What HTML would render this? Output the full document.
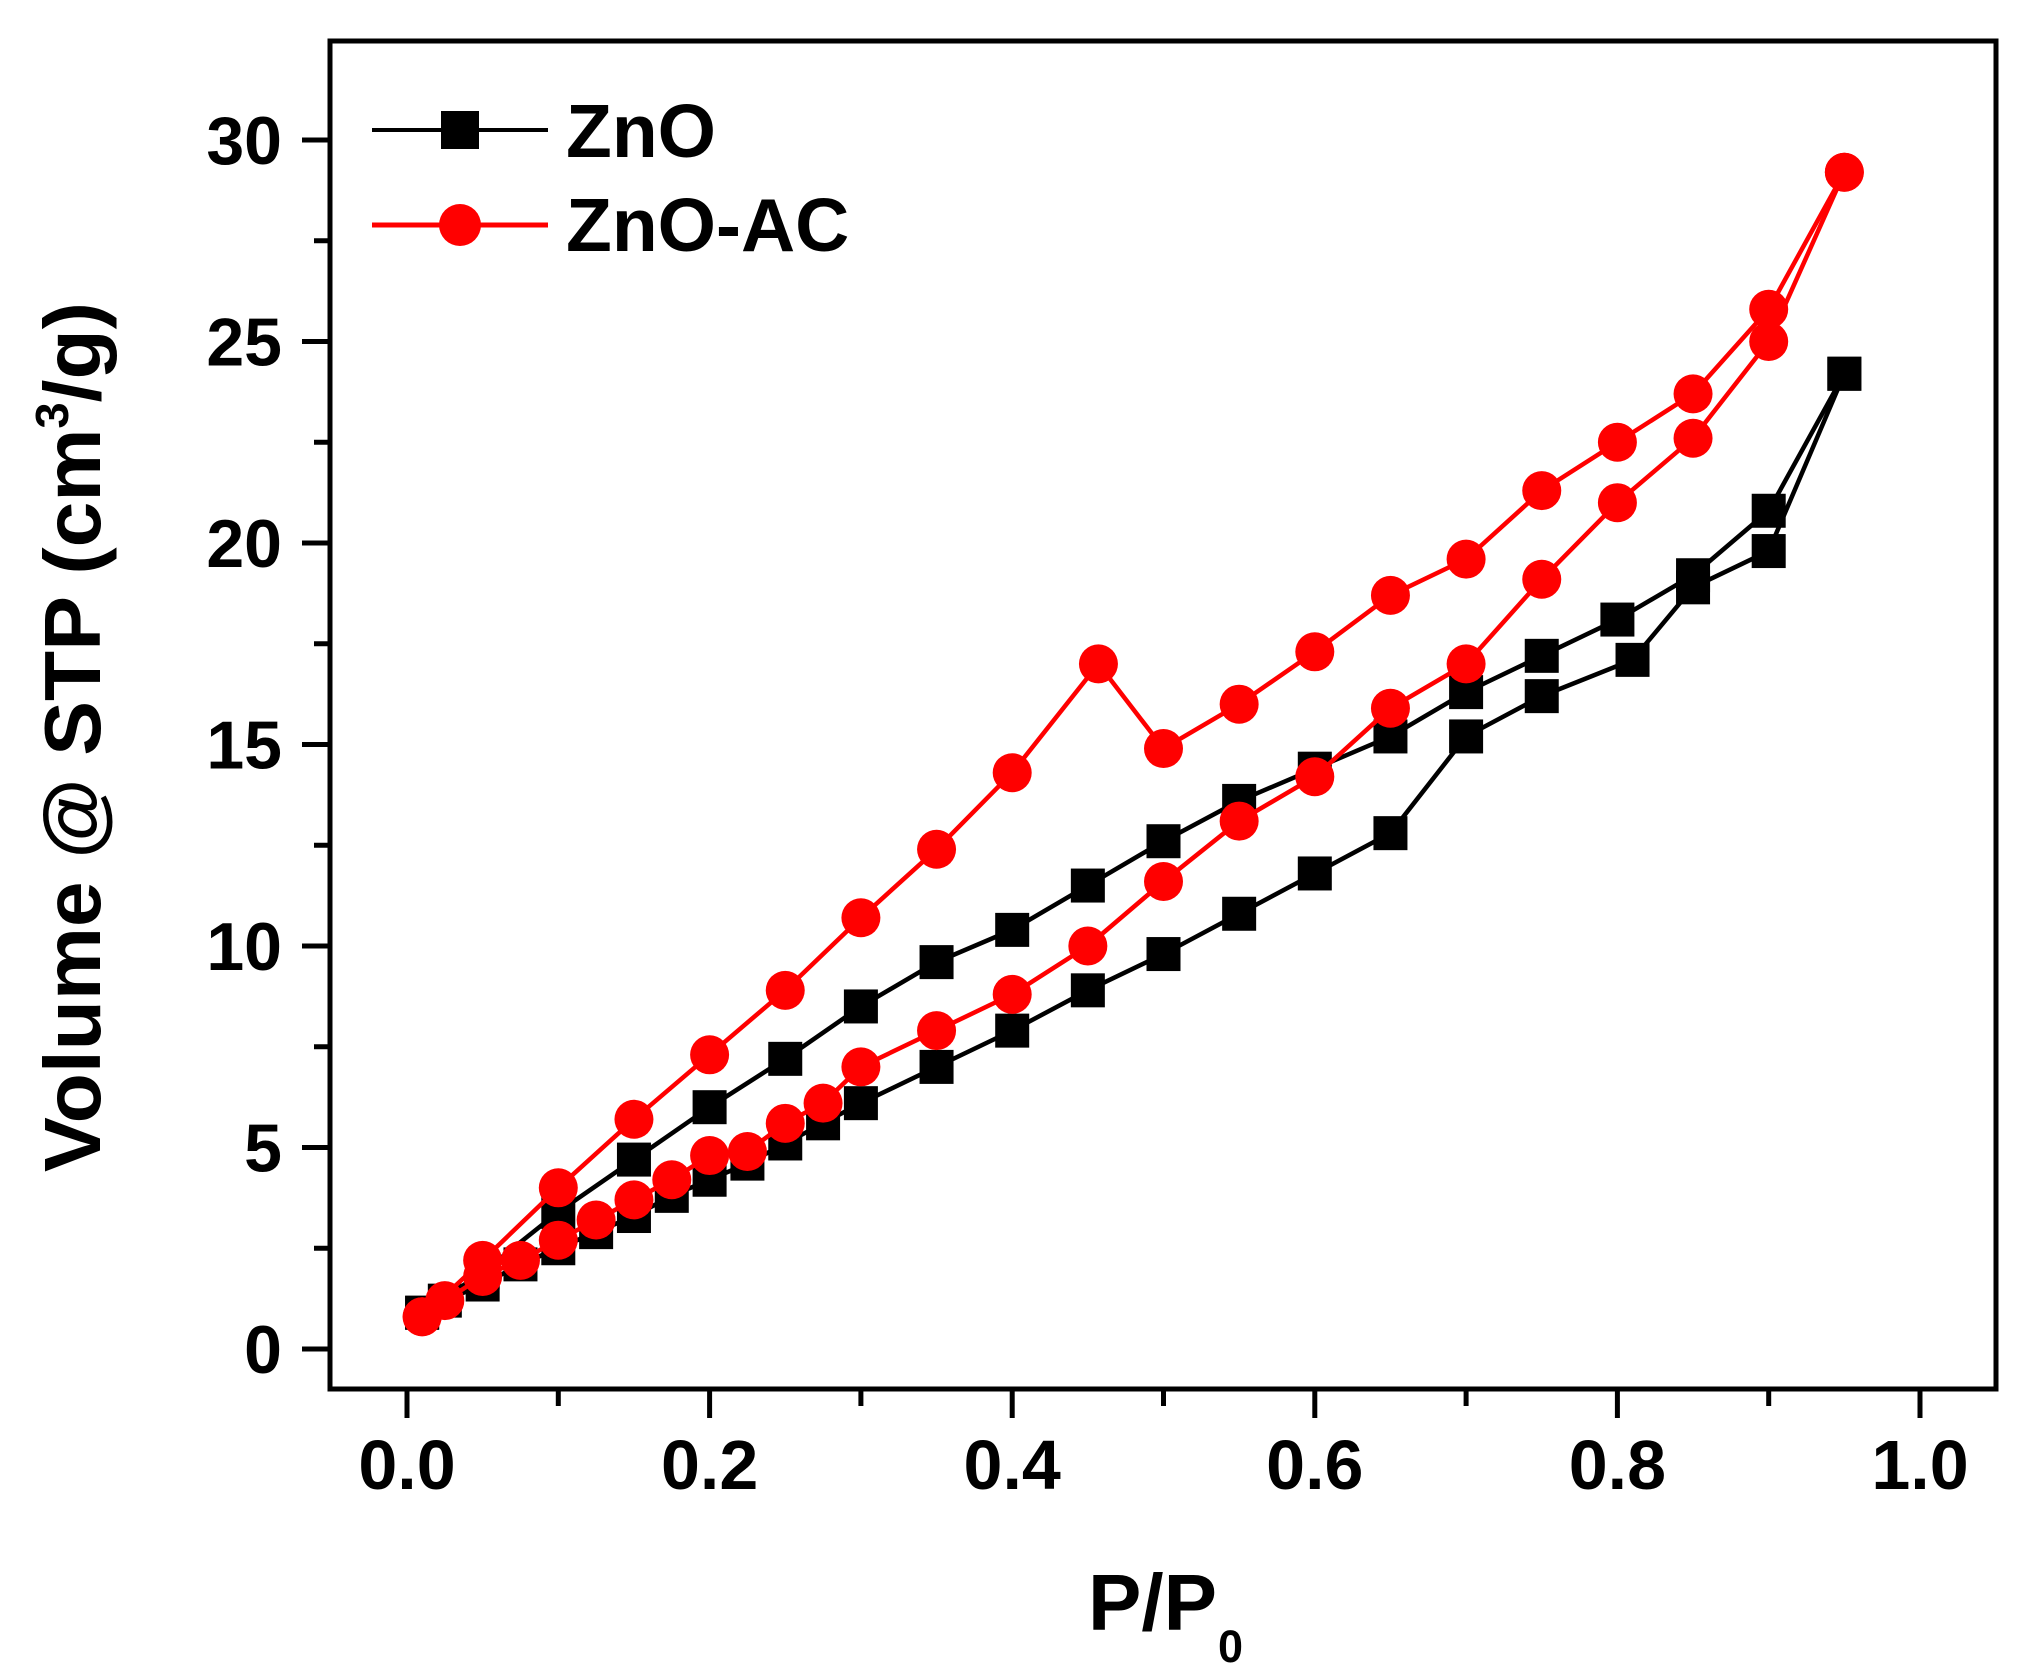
<!DOCTYPE html>
<html><head><meta charset="utf-8"><style>
html,body{margin:0;padding:0;background:#fff;}
svg{display:block;}
text{font-family:"Liberation Sans",Arial,sans-serif;font-weight:bold;fill:#000;}
</style></head><body>
<svg id="s" width="2033" height="1679" viewBox="0 0 2033 1679" xmlns="http://www.w3.org/2000/svg">
<rect width="2033" height="1679" fill="#fff"/>
<g id="data"></g>
<rect x="330" y="41" width="1666" height="1348" fill="none" stroke="#000" stroke-width="5"/>
<g id="ticks" stroke="#000" stroke-width="5"></g>
<g id="labels" font-size="68"></g>
<line x1="372" y1="130" x2="548" y2="130" stroke="#000" stroke-width="4"/>
<rect x="441" y="111" width="38" height="38" fill="#000"/>
<text x="566" y="157" font-size="75">ZnO</text>
<line x1="372" y1="225" x2="548" y2="225" stroke="#f00" stroke-width="5"/>
<circle cx="460" cy="225" r="21" fill="#f00"/>
<text x="566" y="251" font-size="75">ZnO-AC</text>
<text x="1088" y="1630" font-size="80">P/P</text>
<text x="1218" y="1662" font-size="45">0</text>
<text transform="translate(100,737) rotate(-90)" text-anchor="middle" font-size="80" textLength="870" lengthAdjust="spacingAndGlyphs">Volume @ STP (cm<tspan dy="-32" font-size="46">3</tspan><tspan dy="32">/g)</tspan></text>
</svg>
<script>
var NS="http://www.w3.org/2000/svg";
function X(v){return 407+v*1513;}
function Y(v){return 1349-v*40.3;}
function el(p,n,a){var e=document.createElementNS(NS,n);for(var k in a)e.setAttribute(k,a[k]);p.appendChild(e);return e;}
var T=document.getElementById('ticks'),L=document.getElementById('labels');
for(var i=0;i<=12;i++){var y=Y(i*2.5);el(T,'line',{x1:i%2?314:302,y1:y,x2:330,y2:y});
 if(i%2==0){var t=el(L,'text',{x:282,y:y+24,'text-anchor':'end'});t.textContent=String(i*2.5);}}
for(var i=0;i<=10;i++){var x=X(i*0.1);el(T,'line',{x1:x,y1:1389,x2:x,y2:i%2?1406:1418});
 if(i%2==0){var t=el(L,'text',{x:x,y:1489,'text-anchor':'middle','font-size':70});t.textContent=(i*0.1).toFixed(1);}}
var zA=[[0.01,0.9],[0.025,1.2],[0.05,1.6],[0.075,2.1],[0.1,2.5],[0.125,2.9],[0.15,3.3],[0.175,3.8],[0.2,4.2],[0.225,4.6],[0.25,5.1],[0.275,5.6],[0.3,6.1],[0.35,7.0],[0.4,7.9],[0.45,8.9],[0.5,9.8],[0.55,10.8],[0.6,11.8],[0.65,12.8],[0.7,15.2],[0.75,16.2],[0.81,17.1],[0.85,18.9],[0.9,19.8],[0.95,24.2]];
var zD=[[0.95,24.2],[0.9,20.8],[0.85,19.2],[0.8,18.1],[0.75,17.2],[0.7,16.3],[0.65,15.2],[0.6,14.4],[0.55,13.6],[0.5,12.6],[0.45,11.5],[0.4,10.4],[0.35,9.6],[0.3,8.5],[0.25,7.2],[0.2,6.0],[0.15,4.7],[0.1,3.4],[0.05,1.9],[0.01,0.9]];
var aA=[[0.01,0.8],[0.025,1.2],[0.05,1.8],[0.075,2.2],[0.1,2.7],[0.125,3.2],[0.15,3.7],[0.175,4.2],[0.2,4.8],[0.225,4.9],[0.25,5.6],[0.275,6.1],[0.3,7.0],[0.35,7.9],[0.4,8.8],[0.45,10.0],[0.5,11.6],[0.55,13.1],[0.6,14.2],[0.65,15.9],[0.7,17.0],[0.75,19.1],[0.8,21.0],[0.85,22.6],[0.9,25.0],[0.95,29.2]];
var aD=[[0.95,29.2],[0.9,25.8],[0.85,23.7],[0.8,22.5],[0.75,21.3],[0.7,19.6],[0.65,18.7],[0.6,17.3],[0.55,16.0],[0.5,14.9],[0.457,17.0],[0.4,14.3],[0.35,12.4],[0.3,10.7],[0.25,8.9],[0.2,7.3],[0.15,5.7],[0.1,4.0],[0.05,2.2],[0.01,0.8]];
var D=document.getElementById('data');
function series(pts,col,sq){
 el(D,'polyline',{points:pts.map(function(p){return X(p[0])+','+Y(p[1]);}).join(' '),fill:'none',stroke:col,'stroke-width':4.5,'stroke-linejoin':'round'});
 pts.forEach(function(p){if(sq)el(D,'rect',{x:X(p[0])-17,y:Y(p[1])-17,width:34,height:34,fill:col});
  else el(D,'circle',{cx:X(p[0]),cy:Y(p[1]),r:19.5,fill:col});});
}
series(zA,'#000',1);series(zD,'#000',1);series(aA,'#f00',0);series(aD,'#f00',0);
</script>
</body></html>
